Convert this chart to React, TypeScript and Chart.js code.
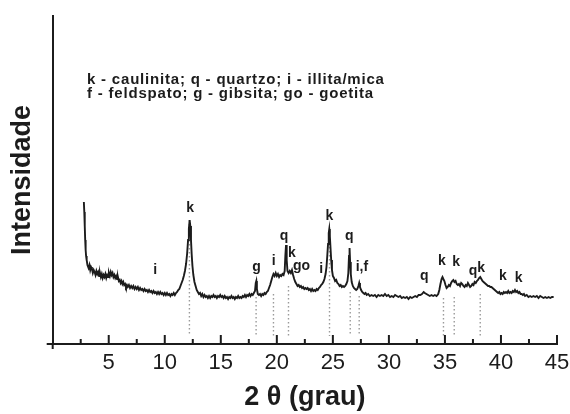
import { useEffect, useRef } from 'react';
import { Chart, registerables } from 'chart.js';

Chart.register(...registerables);

const twoTheta = [
  2.78, 2.82, 2.86, 2.9, 2.94, 2.98, 3.03, 3.1, 3.2, 3.28,
  3.35, 3.42, 3.5, 3.58, 3.66, 3.74, 3.82, 3.9, 3.98, 4.06,
  4.14, 4.22, 4.3, 4.38, 4.46, 4.54, 4.62, 4.7, 4.78, 4.86,
  4.94, 5.02, 5.1, 5.18, 5.26, 5.34, 5.42, 5.5, 5.58, 5.66,
  5.74, 5.82, 5.9, 5.98, 6.06, 6.14, 6.22, 6.3, 6.38, 6.46,
  6.54, 6.62, 6.7, 6.8, 6.9, 7.0, 7.1, 7.2, 7.3, 7.4,
  7.5, 7.6, 7.7, 7.8, 7.9, 8.0, 8.1, 8.2, 8.3, 8.4,
  8.5, 8.6, 8.7, 8.8, 8.9, 9.0, 9.1, 9.2, 9.3, 9.4,
  9.5, 9.6, 9.7, 9.8, 9.9, 10.0, 10.1, 10.2, 10.3, 10.4,
  10.5, 10.6, 10.7, 10.8, 10.9, 11.0, 11.1, 11.2, 11.3, 11.4,
  11.5, 11.6, 11.7, 11.8, 11.9, 12.0, 12.08, 12.15, 12.22, 12.28,
  12.34, 12.4, 12.47, 12.55, 12.65, 12.75, 12.85, 12.95, 13.05, 13.15,
  13.25, 13.35, 13.45, 13.55, 13.65, 13.75, 13.85, 13.95, 14.05, 14.15,
  14.25, 14.35, 14.45, 14.55, 14.65, 14.75, 14.85, 14.95, 15.05, 15.15,
  15.25, 15.35, 15.45, 15.55, 15.65, 15.75, 15.85, 15.95, 16.05, 16.15,
  16.25, 16.35, 16.45, 16.55, 16.65, 16.75, 16.85, 16.95, 17.05, 17.15,
  17.25, 17.35, 17.45, 17.55, 17.65, 17.75, 17.85, 17.95, 18.05, 18.12,
  18.17, 18.22, 18.3, 18.4, 18.5, 18.6, 18.7, 18.8, 18.9, 19.0,
  19.1, 19.2, 19.3, 19.4, 19.5, 19.6, 19.7, 19.8, 19.9, 20.0,
  20.1, 20.2, 20.3, 20.4, 20.5, 20.6, 20.7, 20.76, 20.82, 20.88,
  20.95, 21.05, 21.15, 21.25, 21.35, 21.45, 21.55, 21.65, 21.75, 21.85,
  21.95, 22.05, 22.15, 22.25, 22.35, 22.45, 22.55, 22.65, 22.75, 22.85,
  22.95, 23.05, 23.15, 23.25, 23.35, 23.45, 23.55, 23.65, 23.75, 23.85,
  23.95, 24.05, 24.15, 24.25, 24.35, 24.43, 24.5, 24.57, 24.63, 24.68,
  24.73, 24.79, 24.85, 24.92, 25.0, 25.1, 25.2, 25.3, 25.4, 25.5,
  25.6, 25.7, 25.8, 25.9, 26.0, 26.1, 26.2, 26.3, 26.38, 26.44,
  26.49, 26.54, 26.6, 26.68, 26.78, 26.88, 26.98, 27.08, 27.18, 27.28,
  27.35, 27.42, 27.52, 27.62, 27.72, 27.82, 27.92, 28.02, 28.15, 28.3,
  28.45, 28.6, 28.75, 28.9, 29.05, 29.2, 29.35, 29.5, 29.65, 29.8,
  29.95, 30.1, 30.25, 30.4, 30.55, 30.7, 30.85, 31.0, 31.15, 31.3,
  31.45, 31.6, 31.75, 31.9, 32.05, 32.2, 32.35, 32.5, 32.65, 32.8,
  32.95, 33.1, 33.2, 33.35, 33.5, 33.65, 33.8, 33.95, 34.1, 34.25,
  34.4, 34.5, 34.6, 34.7, 34.78, 34.86, 34.95, 35.05, 35.15, 35.25,
  35.35, 35.45, 35.55, 35.65, 35.75, 35.85, 35.95, 36.05, 36.15, 36.25,
  36.35, 36.45, 36.55, 36.65, 36.75, 36.85, 36.95, 37.05, 37.15, 37.25,
  37.35, 37.45, 37.55, 37.65, 37.75, 37.85, 37.95, 38.05, 38.15, 38.25,
  38.35, 38.45, 38.55, 38.65, 38.75, 38.85, 38.95, 39.05, 39.15, 39.25,
  39.35, 39.45, 39.55, 39.65, 39.75, 39.85, 39.95, 40.05, 40.15, 40.25,
  40.35, 40.45, 40.55, 40.65, 40.75, 40.85, 40.95, 41.05, 41.15, 41.25,
  41.35, 41.45, 41.55, 41.65, 41.75, 41.85, 41.95, 42.05, 42.15, 42.3,
  42.45, 42.6, 42.75, 42.9, 43.05, 43.2, 43.35, 43.5, 43.65, 43.8,
  43.95, 44.1, 44.25, 44.4, 44.55, 44.7,
];

const intensity = [
  142, 132, 118, 104, 94, 88, 84, 79, 76, 79,
  74, 77, 75, 71, 74, 72, 69, 73, 70, 72,
  68, 71, 67, 70, 66, 69, 67, 70, 66, 69,
  67, 71, 68, 72, 69, 71, 67, 69, 66, 68,
  65, 67, 63, 64, 61, 63, 60, 62, 59, 60,
  57, 59, 57, 59, 56, 58, 56, 58, 55, 57,
  55, 57, 54, 56, 54, 55, 53, 55, 53, 54,
  52, 54, 52, 53, 51, 53, 51, 52, 50, 52,
  50, 52, 50, 51, 49, 51, 49, 51, 49, 50,
  48, 50, 49, 51, 49, 51, 52, 54, 55, 58,
  61, 64, 68, 73, 80, 91, 104, 115, 124, 118,
  104, 90, 78, 69, 62, 58, 54, 52, 50, 51,
  48, 50, 47, 49, 47, 48, 46, 48, 46, 48,
  47, 49, 47, 48, 46, 48, 47, 49, 47, 48,
  46, 48, 46, 47, 45, 47, 46, 48, 46, 47,
  45, 47, 46, 48, 46, 47, 46, 48, 47, 49,
  47, 49, 48, 50, 48, 50, 49, 51, 53, 61,
  63, 55, 50, 49, 50, 48, 50, 49, 51, 50,
  52, 53, 56, 59, 63, 67, 70, 68, 71, 68,
  70, 67, 69, 68, 70, 69, 73, 88, 99, 84,
  73, 71, 73, 71, 74, 69, 65, 62, 60, 58,
  59, 57, 58, 56, 57, 55, 56, 55, 56, 54,
  55, 53, 55, 53, 54, 53, 55, 54, 56, 57,
  59, 60, 62, 65, 70, 77, 88, 100, 111, 115,
  108, 96, 84, 74, 68, 66, 63, 64, 61, 60,
  58, 59, 57, 58, 57, 58, 60, 63, 71, 88,
  96, 82, 70, 62, 58, 56, 55, 54, 55, 58,
  61, 57, 54, 52, 51, 50, 51, 49, 50, 48,
  49, 48, 49, 47, 49, 48, 49, 48, 50, 48,
  49, 47, 48, 47, 49, 48, 47, 48, 46, 47,
  46, 47, 45, 47, 46, 47, 48, 47, 49, 49,
  50, 52, 51, 50, 49, 48, 49, 48, 49, 48,
  50, 54, 60, 65, 67, 65, 63, 59, 56, 57,
  59, 58, 61, 63, 64, 62, 63, 60, 59, 60,
  58, 61, 60, 58, 57, 59, 58, 61, 59, 57,
  58, 60, 59, 62, 61, 63, 64, 66, 67, 65,
  63, 62, 61, 60, 59, 58, 58, 57, 57, 56,
  55, 54, 53, 52, 51, 52, 50, 51, 50, 52,
  51, 52, 51, 53, 51, 52, 51, 53, 52, 54,
  52, 53, 51, 52, 50, 50, 49, 50, 48, 49,
  47, 48, 47, 48, 47, 48, 46, 48, 47, 46,
  47, 46, 47, 46, 47, 47,
];

// dotted reference lines under identified reflections
const markerTheta = [12.2, 18.15, 19.7, 21.04, 24.7, 26.55, 27.35, 34.87, 35.83, 38.15];
const markerTop = [124, 47, 50, 58, 113, 52, 48, 46, 47, 50];
const markerBottom = 8;

// phase labels over the peaks
const peakText = ['i', 'k', 'g', 'i', 'q', 'k', 'go', 'i', 'k', 'q', 'i,f', 'q', 'k', 'k', 'q', 'k', 'k', 'k'];
const peakTheta = [9.15, 12.26, 18.18, 19.73, 20.65, 21.34, 22.2, 23.96, 24.69, 26.46, 27.59, 33.15, 34.73, 36.0, 37.5, 38.24, 40.18, 41.57];
const peakLevel = [74, 136, 76.5, 83, 107.5, 90.5, 78, 75, 128, 107.5, 77, 68, 82.5, 81.5, 72.5, 75.5, 67.5, 66];

const legendLines = [
  'k - caulinita; q - quartzo; i - illita/mica',
  'f - feldspato; g - gibsita; go - goetita',
];

const xTitle = '2 θ (grau)';
const yTitle = 'Intensidade';
const xMin = 0;
const xMax = 45;
const xStep = 2.5;
const yMax = 328;

const INK = '#1c1c1c';
const FONT = "'Liberation Sans', Arial, Helvetica, sans-serif";

const extrasPlugin = {
  id: 'extras',
  afterDraw(chart: any) {
    const { ctx, chartArea, scales } = chart;
    const xs = scales.x;
    const ys = scales.y;
    const b = chartArea.bottom;
    const l = chartArea.left;
    ctx.save();
    ctx.strokeStyle = INK;
    ctx.lineWidth = 2;
    ctx.beginPath();
    ctx.moveTo(l - 6, b);
    ctx.lineTo(l, b);
    ctx.moveTo(l, b - 1);
    ctx.lineTo(l, b + 5);
    xs.ticks.forEach((t: any) => {
      if (t.value <= xMin) return;
      const px = xs.getPixelForValue(t.value);
      const len = t.value % 5 === 0 ? 9 : 5;
      ctx.moveTo(px, b);
      ctx.lineTo(px, b - len);
    });
    ctx.stroke();

    ctx.fillStyle = INK;
    ctx.textAlign = 'center';
    ctx.textBaseline = 'middle';
    ctx.font = `bold 14px ${FONT}`;
    peakText.forEach((txt, i) => {
      ctx.fillText(txt, xs.getPixelForValue(peakTheta[i]), ys.getPixelForValue(peakLevel[i]));
    });

    ctx.textAlign = 'left';
    ctx.textBaseline = 'alphabetic';
    ctx.font = `bold 15px ${FONT}`;
    (ctx as any).letterSpacing = '0.8px';
    legendLines.forEach((line, i) => {
      ctx.fillText(line, 87, 84 + i * 13.8);
    });
    ctx.restore();
  },
};

export default function App() {
  const canvasRef = useRef<HTMLCanvasElement | null>(null);

  useEffect(() => {
    const canvas = canvasRef.current;
    if (!canvas) return;

    const curve = twoTheta.map((x, i) => ({ x, y: intensity[i] }));
    const markers: any[] = [];
    markerTheta.forEach((x, i) => {
      markers.push({ x, y: markerTop[i] });
      markers.push({ x, y: markerBottom });
      markers.push({ x, y: null });
    });

    const chart = new Chart(canvas, {
      type: 'line',
      data: {
        datasets: [
          {
            data: curve,
            borderColor: INK,
            borderWidth: 1.9,
            pointRadius: 0,
            tension: 0,
            fill: false,
          },
          {
            data: markers,
            borderColor: '#9a9a9a',
            borderWidth: 1.4,
            borderDash: [1.5, 2.5],
            pointRadius: 0,
            spanGaps: false,
            fill: false,
          },
        ],
      },
      options: {
        animation: false,
        responsive: false,
        devicePixelRatio: 1,
        layout: { padding: { left: 0, top: 16, right: 13, bottom: 0 } },
        plugins: {
          legend: { display: false },
          tooltip: { enabled: false },
        },
        scales: {
          x: {
            type: 'linear',
            min: xMin,
            max: xMax,
            grid: { display: false, drawTicks: false },
            border: { display: true, color: INK, width: 2 },
            ticks: {
              stepSize: xStep,
              autoSkip: false,
              maxRotation: 0,
              padding: 6,
              color: INK,
              font: { family: FONT, size: 22 },
              callback: (v: any) => (Number(v) % 5 === 0 && Number(v) !== 0 ? String(v) : ''),
            },
            title: {
              display: true,
              text: xTitle,
              color: INK,
              font: { family: FONT, size: 27, weight: 'bold' },
              padding: { top: 0, bottom: 0 },
            },
            afterFit: (s: any) => {
              s.height = 70;
              s.paddingLeft = 0;
              s.paddingRight = 0;
            },
          },
          y: {
            type: 'linear',
            min: 0,
            max: yMax,
            grid: { display: false, drawTicks: false },
            border: { display: true, color: INK, width: 2 },
            ticks: { display: false },
            title: {
              display: true,
              text: yTitle,
              color: INK,
              font: { family: FONT, size: 27, weight: 'bold' },
              padding: { top: 6, bottom: 0 },
            },
            afterFit: (s: any) => {
              s.width = 52.7;
              s.paddingTop = 0;
              s.paddingBottom = 0;
            },
          },
        },
      } as any,
      plugins: [extrasPlugin],
    });

    return () => chart.destroy();
  }, []);

  return (
    <div style={{ position: 'absolute', left: 0, top: 0, width: 570, height: 414, background: '#fff' }}>
      <canvas ref={canvasRef} width={570} height={414} />
    </div>
  );
}
